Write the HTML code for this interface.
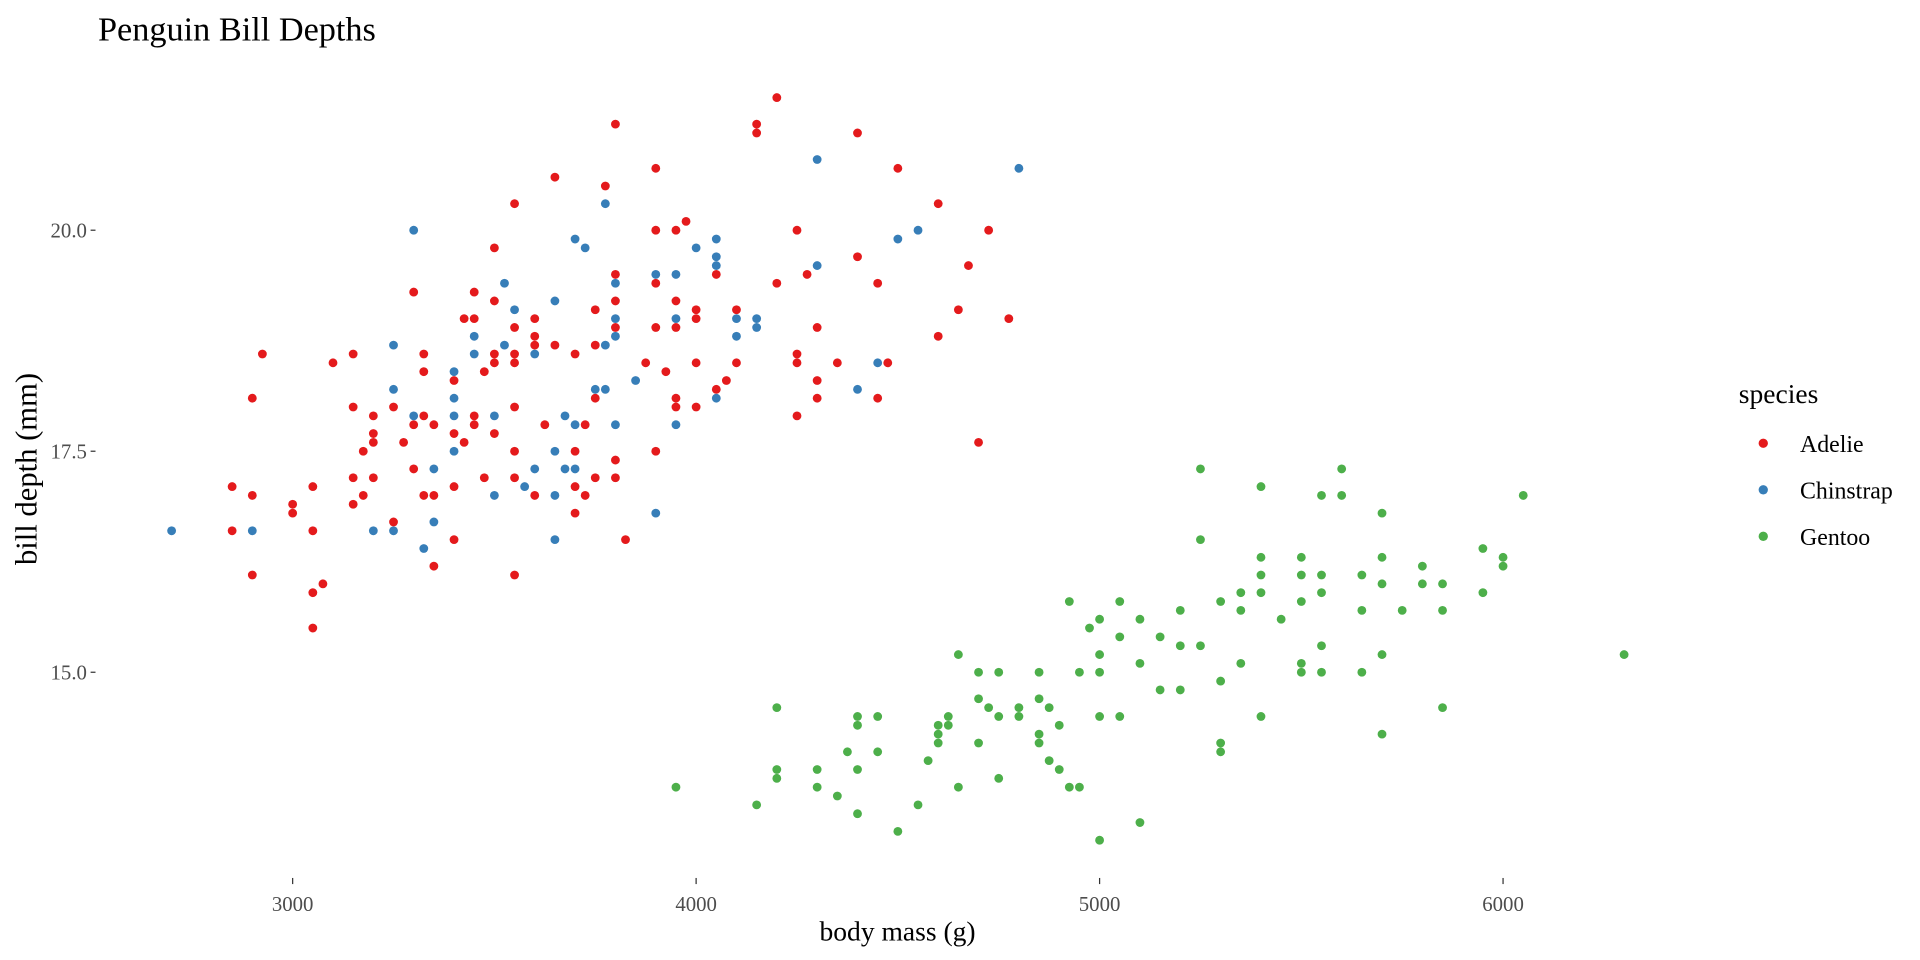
<!DOCTYPE html>
<html><head><meta charset="utf-8"><style>
html,body{margin:0;padding:0;background:#fff;}
svg{display:block;font-family:"Liberation Serif",serif;}
</style></head><body>
<svg id="chart" width="1920" height="960" viewBox="0 0 1568 784" xmlns="http://www.w3.org/2000/svg">
<text x="80" y="33" font-size="28" fill="#000">Penguin Bill Depths</text>
<g id="yaxis"></g>
<g id="xaxis"></g>
<text x="733" y="768" font-size="22.5" text-anchor="middle">body mass (g)</text>
<text transform="translate(30,383) rotate(-90)" font-size="25" text-anchor="middle">bill depth (mm)</text>
<g id="points"></g>
<g id="legend">
<text x="1420" y="329" font-size="22.5">species</text>
</g>
</svg>
<script>
const xTicks=[3000,4000,5000,6000];
const yTicks=[15.0,17.5,20.0];
const species=["Adelie","Chinstrap","Gentoo"];
const colors=["#E41A1C","#377EB8","#4DAF4A"];
const adelieMass=[4200,4150,4150,3800,4400,3900,4500,3650,3775,3550,4600,3975,3900,3950,4250,4725,3500,4400,4675,3800,4050,4275,4200,4450,3300,3450,3900,3500,3800,3950,4000,4100,3750,4650,3425,3450,3600,4000,4775,3550,3800,3900,3950,4300,3600,4600,3600,3650,3750,2925,3150,3325,3500,3550,3700,4250,3875,4000,4250,3100,3500,3550,4100,4350,4475,3475,3325,3925,3400,4075,4300,4050,2900,3750,3950,4300,4450,3150,3250,3550,3950,4000,3200,3325,3450,4250,3300,3350,3450,3625,3725,3200,3400,3500,3200,3275,3425,4700,3175,3550,3700,3900,3800,3300,3150,3200,3475,3550,3750,3800,3700,3050,2850,3400,2900,3325,3350,3175,3725,3600,3150,3000,3000,3700,3250,2850,3050,3400,3825,3350,2900,3550,3075,3050,3050];
const adelieDepth=[21.5,21.2,21.1,21.2,21.1,20.7,20.7,20.6,20.5,20.3,20.3,20.1,20.0,20.0,20.0,20.0,19.8,19.7,19.6,19.5,19.5,19.5,19.4,19.4,19.3,19.3,19.4,19.2,19.2,19.2,19.1,19.1,19.1,19.1,19.0,19.0,19.0,19.0,19.0,18.9,18.9,18.9,18.9,18.9,18.8,18.8,18.7,18.7,18.7,18.6,18.6,18.6,18.6,18.6,18.6,18.6,18.5,18.5,18.5,18.5,18.5,18.5,18.5,18.5,18.5,18.4,18.4,18.4,18.3,18.3,18.3,18.2,18.1,18.1,18.1,18.1,18.1,18.0,18.0,18.0,18.0,18.0,17.9,17.9,17.9,17.9,17.8,17.8,17.8,17.8,17.8,17.7,17.7,17.7,17.6,17.6,17.6,17.6,17.5,17.5,17.5,17.5,17.4,17.3,17.2,17.2,17.2,17.2,17.2,17.2,17.1,17.1,17.1,17.1,17.0,17.0,17.0,17.0,17.0,17.0,16.9,16.9,16.8,16.8,16.7,16.6,16.6,16.5,16.5,16.2,16.1,16.1,16.0,15.9,15.5];
const chinMass=[2700,2900,3300,3250,3250,3200,3250,3300,3325,3350,3350,3400,3400,3400,3400,3450,3450,3500,3500,3525,3525,3550,3575,3600,3600,3650,3650,3650,3650,3675,3675,3700,3700,3700,3725,3750,3775,3775,3775,3800,3800,3800,3800,3850,3900,3900,3950,3950,3950,4000,4050,4050,4050,4050,4100,4100,4150,4150,4300,4300,4400,4450,4500,4550,4800];
const chinDepth=[16.6,16.6,20.0,18.7,18.2,16.6,16.6,17.9,16.4,16.7,17.3,18.4,18.1,17.9,17.5,18.8,18.6,17.9,17.0,19.4,18.7,19.1,17.1,18.6,17.3,19.2,17.5,17.0,16.5,17.9,17.3,19.9,17.8,17.3,19.8,18.2,20.3,18.7,18.2,19.4,19.0,18.8,17.8,18.3,19.5,16.8,19.5,19.0,17.8,19.8,19.9,19.7,19.6,18.1,19.0,18.8,19.0,18.9,20.8,19.6,18.2,18.5,19.9,20.0,20.7];
const gentooMass=[3950,4150,4200,4200,4200,4300,4300,4350,4375,4400,4400,4400,4400,4450,4450,4500,4550,4575,4600,4600,4600,4625,4625,4650,4650,4700,4700,4700,4725,4750,4750,4750,4800,4800,4850,4850,4850,4850,4875,4875,4900,4900,4925,4925,4950,4950,4975,5000,5000,5000,5000,5000,5050,5050,5050,5100,5100,5100,5150,5150,5200,5200,5200,5250,5250,5250,5300,5300,5300,5300,5350,5350,5350,5400,5400,5400,5400,5400,5450,5500,5500,5500,5500,5500,5550,5550,5550,5550,5550,5600,5600,5650,5650,5650,5700,5700,5700,5700,5700,5750,5800,5800,5850,5850,5850,5950,5950,6000,6000,6050,6300];
const gentooDepth=[13.7,13.5,14.6,13.9,13.8,13.9,13.7,13.6,14.1,14.5,14.4,13.9,13.4,14.5,14.1,13.2,13.5,14.0,14.4,14.3,14.2,14.5,14.4,15.2,13.7,15.0,14.7,14.2,14.6,15.0,14.5,13.8,14.6,14.5,15.0,14.7,14.3,14.2,14.6,14.0,14.4,13.9,15.8,13.7,15.0,13.7,15.5,15.6,15.2,15.0,14.5,13.1,15.8,15.4,14.5,15.6,15.1,13.3,15.4,14.8,15.7,15.3,14.8,17.3,16.5,15.3,15.8,14.9,14.2,14.1,15.9,15.7,15.1,17.1,16.3,16.1,15.9,14.5,15.6,16.3,16.1,15.8,15.1,15.0,17.0,16.1,15.9,15.3,15.0,17.3,17.0,16.1,15.7,15.0,16.8,16.3,16.0,15.2,14.3,15.7,16.2,16.0,16.0,15.7,14.6,16.4,15.9,16.3,16.2,17.0,15.2];

const NS="http://www.w3.org/2000/svg";
function xs(v){return 239+(v-3000)*0.3295;}
function ys(v){return 188+(20-v)*72.2;}
function mk(tag,attrs){const e=document.createElementNS(NS,tag);for(const k in attrs)e.setAttribute(k,attrs[k]);return e;}

const yaxis=document.getElementById('yaxis');
yTicks.forEach(t=>{
  const y=ys(t);
  const l=mk('line',{x1:74,x2:78,y1:y,y2:y,stroke:'#333','stroke-width':1});
  
  
  yaxis.appendChild(l);
  const tx=mk('text',{x:71,y:y+6,'font-size':17,'text-anchor':'end',fill:'#4d4d4d'});
  
  
  tx.textContent=t.toFixed(1);
  yaxis.appendChild(tx);
});
const xaxis=document.getElementById('xaxis');
xTicks.forEach(t=>{
  const x=xs(t);
  const l=mk('line',{x1:x,x2:x,y1:717,y2:722,stroke:'#333','stroke-width':1});
  
  
  xaxis.appendChild(l);
  const tx=mk('text',{x:x,y:744,'font-size':17,'text-anchor':'middle',fill:'#4d4d4d'});
  
  
  tx.textContent=t;
  xaxis.appendChild(tx);
});
const pts=document.getElementById('points');
const sets=[[adelieMass,adelieDepth],[chinMass,chinDepth],[gentooMass,gentooDepth]];
sets.forEach((s,i)=>{
  s[0].forEach((m,j)=>{
    const c=mk('circle',{cx:xs(m),cy:ys(s[1][j]),r:3.6,fill:colors[i]});
    
    
    pts.appendChild(c);
  });
});
const leg=document.getElementById('legend');
species.forEach((sp,i)=>{
  const y=362+i*38;
  const c=mk('circle',{cx:1440,cy:y,r:3.8,fill:colors[i]});
  
  
  leg.appendChild(c);
  const t=mk('text',{x:1470,y:y+7,'font-size':19.5});
  
  
  t.textContent=sp;
  leg.appendChild(t);
});
</script>
</body></html>
